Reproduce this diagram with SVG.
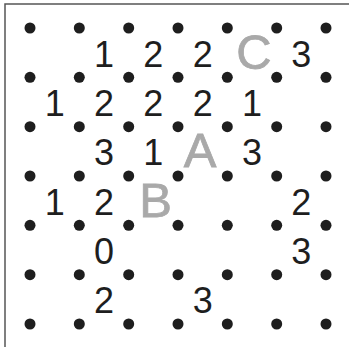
<svg xmlns="http://www.w3.org/2000/svg" width="349" height="347" viewBox="0 0 349 347">
<style>
.d{fill:#1e1e1e}
.n{font-family:"Liberation Sans",Arial,sans-serif;font-size:36px;fill:#1e1e1e;text-anchor:middle}
.l{font-family:"Liberation Sans",Arial,sans-serif;font-size:49px;fill:#a9a9a9;stroke:#a9a9a9;stroke-width:0.8;text-anchor:middle}
.f{stroke:#555;stroke-width:1.5;fill:none}
</style>
<rect width="349" height="347" fill="#fff"/>
<path class="f" d="M5,349 V4 H349"/>
<g id="dots">
<g class="d">
<circle cx="30" cy="28" r="5.5"/><circle cx="79.3" cy="28" r="5.5"/><circle cx="128.7" cy="28" r="5.5"/><circle cx="178" cy="28" r="5.5"/><circle cx="227.3" cy="28" r="5.5"/><circle cx="276.7" cy="28" r="5.5"/><circle cx="326" cy="28" r="5.5"/>
<circle cx="30" cy="77.3" r="5.5"/><circle cx="79.3" cy="77.3" r="5.5"/><circle cx="128.7" cy="77.3" r="5.5"/><circle cx="178" cy="77.3" r="5.5"/><circle cx="227.3" cy="77.3" r="5.5"/><circle cx="276.7" cy="77.3" r="5.5"/><circle cx="326" cy="77.3" r="5.5"/>
<circle cx="30" cy="126.7" r="5.5"/><circle cx="79.3" cy="126.7" r="5.5"/><circle cx="128.7" cy="126.7" r="5.5"/><circle cx="178" cy="126.7" r="5.5"/><circle cx="227.3" cy="126.7" r="5.5"/><circle cx="276.7" cy="126.7" r="5.5"/><circle cx="326" cy="126.7" r="5.5"/>
<circle cx="30" cy="176" r="5.5"/><circle cx="79.3" cy="176" r="5.5"/><circle cx="128.7" cy="176" r="5.5"/><circle cx="178" cy="176" r="5.5"/><circle cx="227.3" cy="176" r="5.5"/><circle cx="276.7" cy="176" r="5.5"/><circle cx="326" cy="176" r="5.5"/>
<circle cx="30" cy="225.3" r="5.5"/><circle cx="79.3" cy="225.3" r="5.5"/><circle cx="128.7" cy="225.3" r="5.5"/><circle cx="178" cy="225.3" r="5.5"/><circle cx="227.3" cy="225.3" r="5.5"/><circle cx="276.7" cy="225.3" r="5.5"/><circle cx="326" cy="225.3" r="5.5"/>
<circle cx="30" cy="274.7" r="5.5"/><circle cx="79.3" cy="274.7" r="5.5"/><circle cx="128.7" cy="274.7" r="5.5"/><circle cx="178" cy="274.7" r="5.5"/><circle cx="227.3" cy="274.7" r="5.5"/><circle cx="276.7" cy="274.7" r="5.5"/><circle cx="326" cy="274.7" r="5.5"/>
<circle cx="30" cy="324" r="5.5"/><circle cx="79.3" cy="324" r="5.5"/><circle cx="128.7" cy="324" r="5.5"/><circle cx="178" cy="324" r="5.5"/><circle cx="227.3" cy="324" r="5.5"/><circle cx="276.7" cy="324" r="5.5"/><circle cx="326" cy="324" r="5.5"/>
</g>
</g>
<g id="clues">
<text class="n" x="104" y="66.7">1</text><text class="n" x="153.3" y="66.7">2</text><text class="n" x="202.7" y="66.7">2</text><text class="n" x="301.3" y="66.7">3</text>
<text class="n" x="54.7" y="116">1</text><text class="n" x="104" y="116">2</text><text class="n" x="153.3" y="116">2</text><text class="n" x="202.7" y="116">2</text><text class="n" x="252" y="116">1</text>
<text class="n" x="104" y="165.3">3</text><text class="n" x="153.3" y="165.3">1</text><text class="n" x="252" y="165.3">3</text>
<text class="n" x="54.7" y="214.7">1</text><text class="n" x="104" y="214.7">2</text><text class="n" x="301.3" y="214.7">2</text>
<text class="n" x="104" y="264">0</text><text class="n" x="301.3" y="264">3</text>
<text class="n" x="104" y="313.3">2</text><text class="n" x="202.7" y="313.3">3</text>
</g>
<g id="labels">
<text id="label-C" class="l" x="254" y="69">C</text>
<text id="label-A" class="l" x="200" y="167">A</text>
<text id="label-B" class="l" x="155.5" y="217">B</text>
</g>
</svg>
